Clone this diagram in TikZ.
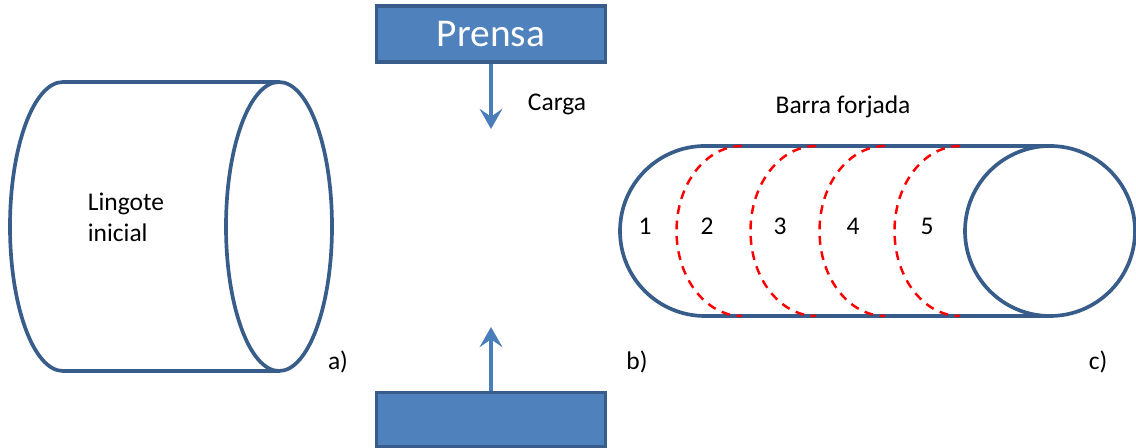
\documentclass[tikz,border=0pt]{standalone}
\usepackage{fontspec}
\setmainfont{Carlito}
\usetikzlibrary{arrows.meta,shapes.geometric}
\definecolor{prensafill}{HTML}{4F81BD}
\definecolor{prensaline}{HTML}{385D8A}
\definecolor{flecha}{HTML}{4A7EBB}
\tikzset{
  prensa/.style={draw=prensaline, line width=2pt, fill=prensafill, minimum width=4.58cm, inner sep=0pt},
  contorno/.style={draw=prensaline, line width=2.1pt, outer sep=0pt},
  corte/.style={draw=red, line width=1.4pt, dash pattern=on 5pt off 3.8pt},
  carga/.style={draw=flecha, line width=1.8pt, -{Stealth[length=11.5pt, width=13pt, inset=4.5pt]}},
  rotulo/.style={font=\fontsize{14.5}{17.6}\selectfont, inner sep=0pt}
}
\begin{document}
\begin{tikzpicture}
\useasboundingbox (0,0) rectangle (22.72,8.96);

% prensa y carga
\node[prensa, minimum height=1.12cm, text=white, font=\fontsize{22.4}{24}\selectfont] (P1) at (9.82,8.28) {Prensa};
\node[prensa, minimum height=1.09cm] (P2) at (9.82,0.565) {};
\coordinate (C1) at (9.82,6.38);
\coordinate (C2) at (9.82,2.42);
\draw[carga] (P1) -- (C1);
\draw[carga] (P2) -- (C2);
\node[rotulo] (carga) at (11.14,6.87) {Carga};

% lingote
\node[ellipse, contorno, inner sep=0pt, minimum width=2.12cm, minimum height=5.78cm] (L) at (5.58,4.43) {};
\draw[contorno] (L.north) -- (1.26,7.32) arc[start angle=90, end angle=270, x radius=1.06, y radius=2.89] -- (L.south);
\node[rotulo, align=left, anchor=west] (lingote) at (1.75,4.62) {Lingote\\inicial};

% barra
\node[circle, contorno, inner sep=0pt, minimum size=3.4cm] (B) at (21,4.34) {};
\draw[contorno] (B.north) -- (14.1,6.04) arc[start angle=90, end angle=270, radius=1.7] -- (B.south);
\foreach \x in {14.84,16.32,17.7,19.2}
  \draw[corte] (\x,6.04) arc[start angle=90, end angle=270, x radius=1.31, y radius=1.7];
\node[rotulo] (barra) at (16.86,6.83) {Barra forjada};

\node[rotulo] (n1) at (12.9,4.44) {1};
\node[rotulo] (n2) at (14.14,4.44) {2};
\node[rotulo] (n3) at (15.6,4.44) {3};
\node[rotulo] (n4) at (17.06,4.44) {4};
\node[rotulo] (n5) at (18.54,4.44) {5};

\node[rotulo] (a) at (6.76,1.72) {a)};
\node[rotulo] (b) at (12.74,1.72) {b)};
\node[rotulo] (c) at (21.96,1.72) {c)};
\end{tikzpicture}
\end{document}
